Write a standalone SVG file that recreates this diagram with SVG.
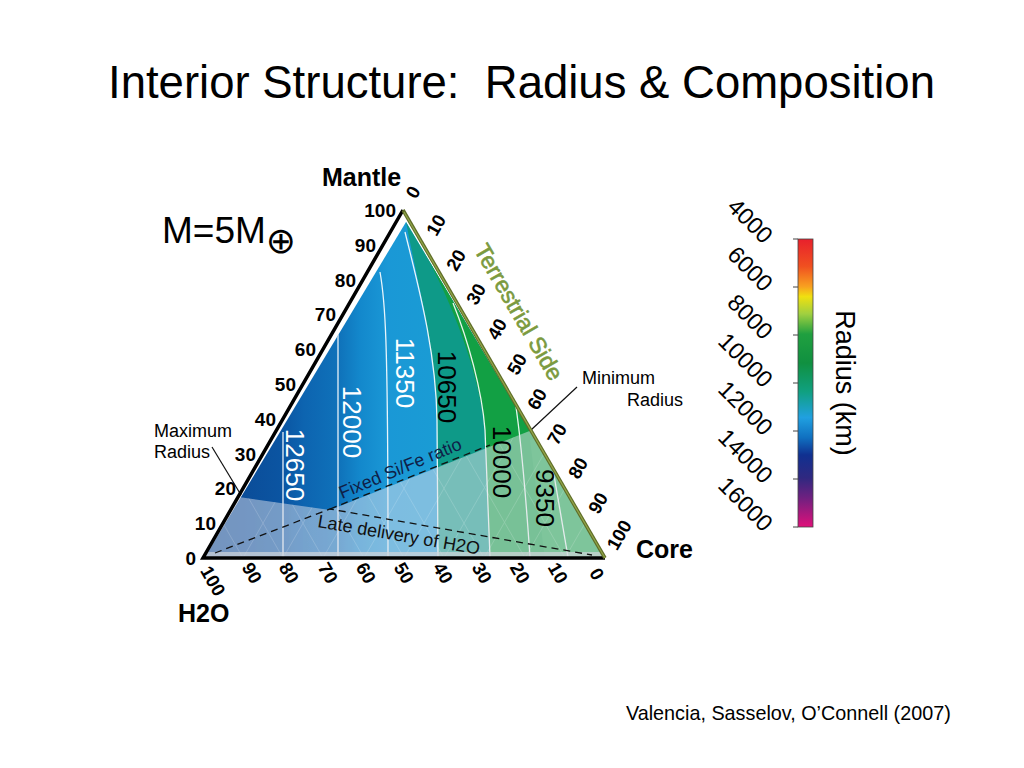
<svg xmlns="http://www.w3.org/2000/svg" width="1024" height="768" viewBox="0 0 1024 768">
<style>
text{font-family:"Liberation Sans",Arial,sans-serif;fill:#000}
.title{font-size:45.5px;white-space:pre}
.ax{font-size:25px;font-weight:bold}
.tick{font-size:19px;font-weight:bold}
.rt{font-size:18.5px;font-weight:bold}
.cl{font-size:26px}
.note{font-size:18px}
.cb{font-size:23.5px}
.contour{fill:none;stroke:#fff;stroke-width:1.3;opacity:0.9}
.dash{fill:none;stroke:#111;stroke-width:1.3;stroke-dasharray:7 5}
.grid{stroke:#fff;stroke-width:0.8;opacity:0.2}
</style>
<defs>
<clipPath id="tri"><polygon points="406,222 605,557 205,557"/></clipPath>
<clipPath id="ov"><polygon points="239,497 330,510 532,430 605,557 205,557"/></clipPath>
<linearGradient id="blue" gradientUnits="userSpaceOnUse" x1="205" y1="0" x2="440" y2="0">
<stop offset="0" stop-color="#0a4590"/>
<stop offset="0.33" stop-color="#0b55a2"/>
<stop offset="0.42" stop-color="#0d64b0"/>
<stop offset="0.57" stop-color="#0f72ba"/>
<stop offset="0.66" stop-color="#1388cc"/>
<stop offset="0.78" stop-color="#1a98d6"/>
<stop offset="1" stop-color="#1a9cd4"/>
</linearGradient>
<linearGradient id="bar" x1="0" y1="0" x2="0" y2="1">
<stop offset="0" stop-color="#e8202c"/>
<stop offset="0.095" stop-color="#f05020"/>
<stop offset="0.165" stop-color="#f8a020"/>
<stop offset="0.2" stop-color="#f0e010"/>
<stop offset="0.26" stop-color="#a0d040"/>
<stop offset="0.33" stop-color="#20a040"/>
<stop offset="0.43" stop-color="#109040"/>
<stop offset="0.53" stop-color="#10a080"/>
<stop offset="0.62" stop-color="#20a0e0"/>
<stop offset="0.69" stop-color="#1070c0"/>
<stop offset="0.75" stop-color="#103090"/>
<stop offset="0.83" stop-color="#302880"/>
<stop offset="0.9" stop-color="#702080"/>
<stop offset="1" stop-color="#e0107a"/>
</linearGradient>
</defs>

<text class="title" x="108" y="98" xml:space="preserve">Interior Structure:  Radius &amp; Composition</text>
<text x="162" y="243" style="font-size:37px">M=5M<tspan style="font-family:'DejaVu Sans',sans-serif;font-size:36px" dy="10">⊕</tspan></text>

<g id="fill">
<g clip-path="url(#tri)">
<rect x="200" y="200" width="420" height="370" fill="url(#blue)"/>
<path d="M406,222 C418,285 436,350 437,420 L438,560 L620,560 L620,200 Z" fill="#0e9a88"/>
<path d="M410,228 C440,275 478,360 485,430 L490,560 L620,560 L620,200 Z" fill="#12a044"/>
<path d="M530,440 L545,560 L620,560 L620,420 Z" fill="#1ea84c"/>
<path class="contour" d="M283,432 L283,557"/>
<path class="contour" d="M338,334 L338,557"/>
<path class="contour" d="M380,272 C385,300 388,330 388,557"/>
<path class="contour" d="M405,232 C418,285 436,350 437,420 L438,557"/>
<path class="contour" d="M453,303 C468,340 482,390 485,430 L490,557"/>
<path class="contour" d="M505,345 C515,390 522,440 530,557"/>
<path class="contour" d="M548,440 C555,480 562,520 568,557"/>
</g>
<g id="overlay" clip-path="url(#ov)">
<rect x="200" y="420" width="420" height="150" fill="#dfe2ec" opacity="0.5"/>
<g class="grid">
<line x1="243" y1="558" x2="443" y2="210"/><line x1="283" y1="558" x2="483" y2="210"/>
<line x1="323" y1="558" x2="523" y2="210"/><line x1="364" y1="558" x2="564" y2="210"/>
<line x1="404" y1="558" x2="604" y2="210"/><line x1="444" y1="558" x2="644" y2="210"/>
<line x1="484" y1="558" x2="684" y2="210"/><line x1="525" y1="558" x2="725" y2="210"/>
<line x1="565" y1="558" x2="765" y2="210"/>
<line x1="565" y1="558" x2="365" y2="210"/><line x1="525" y1="558" x2="325" y2="210"/>
<line x1="484" y1="558" x2="284" y2="210"/><line x1="444" y1="558" x2="244" y2="210"/>
<line x1="404" y1="558" x2="204" y2="210"/><line x1="364" y1="558" x2="164" y2="210"/>
<line x1="323" y1="558" x2="123" y2="210"/><line x1="283" y1="558" x2="83" y2="210"/>
<line x1="243" y1="558" x2="43" y2="210"/>
</g>
</g>
<rect x="206" y="552" width="398" height="5" fill="#d0d4da" opacity="0.7"/>
</g>

<g id="contour-labels">
<text class="cl" transform="translate(295,465) rotate(90)" text-anchor="middle" dy="0.35em" style="fill:#fff">12650</text>
<text class="cl" transform="translate(352,422) rotate(90)" text-anchor="middle" dy="0.35em" style="fill:#fff">12000</text>
<text class="cl" transform="translate(405,373) rotate(90)" text-anchor="middle" dy="0.35em" style="fill:#fff">11350</text>
<text class="cl" transform="translate(447,387) rotate(90)" text-anchor="middle" dy="0.35em">10650</text>
<text class="cl" transform="translate(502,462) rotate(90)" text-anchor="middle" dy="0.35em">10000</text>
<text class="cl" transform="translate(545,498) rotate(90)" text-anchor="middle" dy="0.35em">9350</text>
</g>

<g id="connectors">
<path class="dash" d="M215,553 L330,509 L592,555"/>
<path class="dash" d="M330,509 L490,445"/>
<line x1="212" y1="447" x2="241" y2="495" stroke="#111" stroke-width="1.2"/>
<line x1="577" y1="387" x2="531" y2="430" stroke="#111" stroke-width="1.2"/>
</g>

<g id="frame">
<polyline points="605,558 203,558 403,210" fill="none" stroke="#000" stroke-width="3.5" stroke-linejoin="miter"/>
<line x1="403" y1="210" x2="605" y2="558" stroke="#5f6d28" stroke-width="3.5"/>
<line x1="404" y1="212" x2="605" y2="558" stroke="#93a64a" stroke-width="1.2"/>
</g>

<g id="notes">
<text x="342" y="499" transform="rotate(-22.6 342 499)" style="font-size:18px;fill:#0f1f48">Fixed Si/Fe ratio</text>
<text x="317" y="527" transform="rotate(9.7 317 527)" style="font-size:18px;fill:#111">Late delivery of H2O</text>
<text class="note" x="154" y="437">Maximum</text>
<text class="note" x="154" y="458">Radius</text>
<text class="note" x="582" y="384">Minimum</text>
<text class="note" x="627" y="406">Radius</text>
<text transform="translate(519,312) rotate(59.9)" text-anchor="middle" dy="0.35em" style="font-size:23px;fill:#7b9a3e;stroke:#7b9a3e;stroke-width:0.6">Terrestrial Side</text>
</g>

<g id="axis-labels">
<text class="ax" x="322" y="186">Mantle</text>
<text class="ax" x="636" y="558">Core</text>
<text class="ax" x="178" y="622">H2O</text>
</g>

<g id="left-ticks" text-anchor="end">
<text class="tick" x="196" y="565">0</text>
<text class="tick" x="216" y="530">10</text>
<text class="tick" x="236" y="495">20</text>
<text class="tick" x="256" y="461">30</text>
<text class="tick" x="276" y="426">40</text>
<text class="tick" x="296" y="391">50</text>
<text class="tick" x="316" y="356">60</text>
<text class="tick" x="336" y="321">70</text>
<text class="tick" x="356" y="287">80</text>
<text class="tick" x="376" y="252">90</text>
<text class="tick" x="396" y="217">100</text>
</g>

<g id="right-ticks" text-anchor="middle">
<text class="rt" transform="translate(413,192) rotate(-60)" dy="0.35em">0</text>
<text class="rt" transform="translate(436,225) rotate(-60)" dy="0.35em">10</text>
<text class="rt" transform="translate(456,260) rotate(-60)" dy="0.35em">20</text>
<text class="rt" transform="translate(476,294) rotate(-60)" dy="0.35em">30</text>
<text class="rt" transform="translate(497,329) rotate(-60)" dy="0.35em">40</text>
<text class="rt" transform="translate(517,364) rotate(-60)" dy="0.35em">50</text>
<text class="rt" transform="translate(537,399) rotate(-60)" dy="0.35em">60</text>
<text class="rt" transform="translate(557,434) rotate(-60)" dy="0.35em">70</text>
<text class="rt" transform="translate(578,468) rotate(-60)" dy="0.35em">80</text>
<text class="rt" transform="translate(598,503) rotate(-60)" dy="0.35em">90</text>
<text class="rt" transform="translate(619,535) rotate(-60)" dy="0.35em">100</text>
</g>

<g id="bottom-ticks" text-anchor="middle">
<text class="rt" transform="translate(213,581) rotate(60)" dy="0.35em">100</text>
<text class="rt" transform="translate(252,573) rotate(60)" dy="0.35em">90</text>
<text class="rt" transform="translate(289,573) rotate(60)" dy="0.35em">80</text>
<text class="rt" transform="translate(328,573) rotate(60)" dy="0.35em">70</text>
<text class="rt" transform="translate(366,573) rotate(60)" dy="0.35em">60</text>
<text class="rt" transform="translate(404,573) rotate(60)" dy="0.35em">50</text>
<text class="rt" transform="translate(443,573) rotate(60)" dy="0.35em">40</text>
<text class="rt" transform="translate(482,573) rotate(60)" dy="0.35em">30</text>
<text class="rt" transform="translate(520,573) rotate(60)" dy="0.35em">20</text>
<text class="rt" transform="translate(558,573) rotate(60)" dy="0.35em">10</text>
<text class="rt" transform="translate(597,574) rotate(60)" dy="0.35em">0</text>
</g>

<g id="colorbar">
<rect x="798" y="239" width="15" height="288" fill="url(#bar)" stroke="#444" stroke-width="0.8"/>
<g stroke="#444" stroke-width="1">
<line x1="793" y1="239" x2="798" y2="239"/><line x1="793" y1="287" x2="798" y2="287"/>
<line x1="793" y1="335" x2="798" y2="335"/><line x1="793" y1="383" x2="798" y2="383"/>
<line x1="793" y1="431" x2="798" y2="431"/><line x1="793" y1="479" x2="798" y2="479"/>
<line x1="793" y1="527" x2="798" y2="527"/>
</g>
<g text-anchor="end">
<text class="cb" transform="translate(763,245) rotate(45)">4000</text>
<text class="cb" transform="translate(763,293) rotate(45)">6000</text>
<text class="cb" transform="translate(763,341) rotate(45)">8000</text>
<text class="cb" transform="translate(763,389) rotate(45)">10000</text>
<text class="cb" transform="translate(763,437) rotate(45)">12000</text>
<text class="cb" transform="translate(763,485) rotate(45)">14000</text>
<text class="cb" transform="translate(763,533) rotate(45)">16000</text>
</g>
<text transform="translate(845,383) rotate(90)" text-anchor="middle" dy="0.35em" style="font-size:27px">Radius (km)</text>
</g>

<text x="626" y="720" style="font-size:19.8px">Valencia, Sasselov, O’Connell (2007)</text>
</svg>
